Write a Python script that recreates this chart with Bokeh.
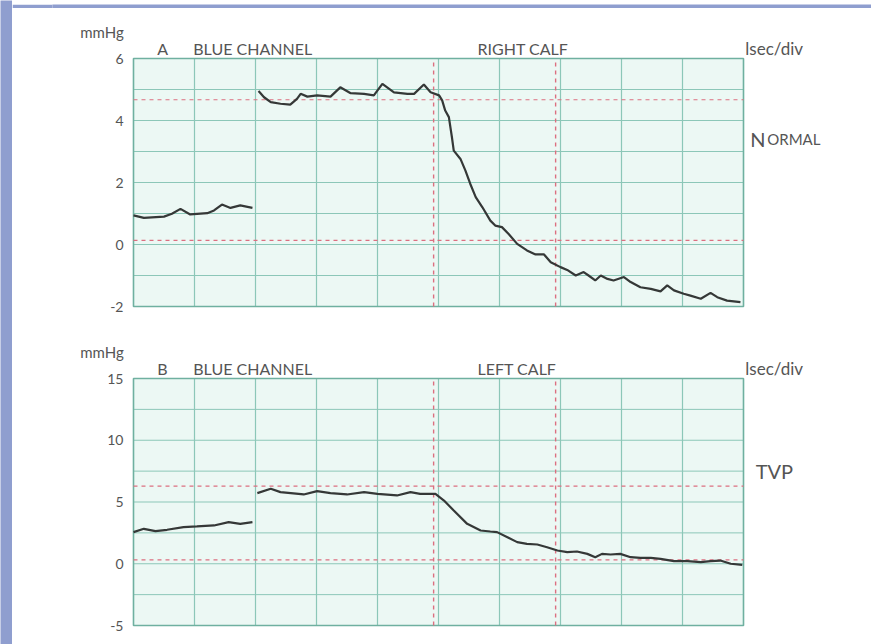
from bokeh.plotting import figure
from bokeh.models import Range1d, FixedTicker, Label, CustomJSTickFormatter
from bokeh.layouts import column, row
from bokeh.embed import file_html
from bokeh.resources import INLINE

# ---------------- data ----------------
# Panel A (right calf, normal) - time in s (1 s/div), pressure mmHg
a1_t = [0.00, 0.17, 0.50, 0.63, 0.77, 0.93, 1.21, 1.32, 1.45, 1.59, 1.75, 1.95]
a1_v = [0.94, 0.86, 0.90, 0.99, 1.15, 0.97, 1.01, 1.10, 1.29, 1.18, 1.26, 1.18]
a2_t = [2.05, 2.14, 2.25, 2.41, 2.57, 2.68, 2.74, 2.85, 3.01, 3.23, 3.39, 3.56, 3.78, 3.94,
        4.08, 4.27, 4.49, 4.60, 4.76, 4.87, 5.01, 5.06, 5.11, 5.17, 5.22, 5.25, 5.36, 5.44,
        5.52, 5.61, 5.72, 5.85, 5.93, 6.04, 6.15, 6.29, 6.45, 6.59, 6.73, 6.84, 7.00, 7.11,
        7.25, 7.38, 7.46, 7.57, 7.66, 7.77, 7.87, 8.04, 8.15, 8.31, 8.48, 8.64, 8.75, 8.86,
        9.02, 9.13, 9.30, 9.46, 9.57, 9.73, 9.95]
a2_v = [4.95, 4.75, 4.59, 4.54, 4.51, 4.70, 4.86, 4.77, 4.81, 4.77, 5.07, 4.88, 4.86, 4.81,
        5.18, 4.91, 4.86, 4.86, 5.16, 4.91, 4.81, 4.65, 4.32, 4.11, 3.46, 3.03, 2.76, 2.39,
        1.96, 1.53, 1.20, 0.77, 0.61, 0.56, 0.34, 0.02, -0.19, -0.32, -0.32, -0.57, -0.73, -0.82,
        -1.00, -0.89, -1.00, -1.16, -1.00, -1.11, -1.16, -1.05, -1.21, -1.38, -1.43, -1.51, -1.32, -1.48,
        -1.59, -1.65, -1.75, -1.56, -1.70, -1.81, -1.86]

# Panel B (left calf, TVP)
b1_t = [0.00, 0.17, 0.36, 0.55, 0.82, 1.04, 1.32, 1.56, 1.75, 1.95]
b1_v = [2.56, 2.83, 2.64, 2.75, 2.96, 3.02, 3.10, 3.37, 3.23, 3.37]
b2_t = [2.03, 2.25, 2.41, 2.79, 3.01, 3.23, 3.50, 3.78, 4.00, 4.32, 4.54, 4.70, 4.95, 5.09,
        5.25, 5.47, 5.69, 5.85, 5.96, 6.13, 6.29, 6.45, 6.62, 6.78, 6.95, 7.11, 7.27, 7.44,
        7.57, 7.68, 7.82, 7.98, 8.15, 8.31, 8.48, 8.64, 8.86, 9.08, 9.30, 9.46, 9.62, 9.79, 9.98]
b2_v = [5.72, 6.07, 5.80, 5.61, 5.88, 5.72, 5.61, 5.80, 5.66, 5.53, 5.80, 5.66, 5.66, 5.12,
        4.31, 3.23, 2.69, 2.61, 2.56, 2.15, 1.75, 1.61, 1.56, 1.34, 1.07, 0.94, 0.99, 0.80,
        0.53, 0.80, 0.75, 0.80, 0.53, 0.48, 0.48, 0.40, 0.21, 0.21, 0.13, 0.21, 0.26, 0.00, -0.09]

x_grid = [0, 1, 2, 3, 4, 5, 6, 7, 8, 9, 10]
a_ticks = [-2, 0, 2, 4, 6]
a_grid = [-2, -1, 0, 1, 2, 3, 4, 5, 6]
b_ticks = [-5, 0, 5, 10, 15]
b_grid = [-5, -2.5, 0, 2.5, 5, 7.5, 10, 12.5, 15]

a_ref_h = [4.67, 0.13]
b_ref_h = [6.28, 0.32]
ref_v = [4.92, 6.92]

FONT = "Lato"
TXT = "#555555"
GRID = "#8cc7b8"
OUTLINE = "#6fb0a0"
FILL = "#ecf8f4"
RED = "#dc6f80"
TRACE = "#353837"
SLIDE = "#8f9ecf"

W = 859          # chart canvas width (page minus the blue strip)
PX_X = 61.0      # pixels per second
FRAME_L = 40     # frame left border (axis panel)
ZERO_X = 121     # canvas x of t = 0


def make_panel(height, below, ylo, px_y, ticks, ygrid):
    # 'below' = pixels of canvas below the lowest grid line
    x0 = -(ZERO_X - FRAME_L) / PX_X
    x1 = x0 + (W - FRAME_L) / PX_X
    y0 = ylo - below / px_y
    y1 = y0 + height / px_y
    p = figure(width=W, height=height, x_range=Range1d(x0, x1), y_range=Range1d(y0, y1),
               output_backend="svg", toolbar_location=None, x_axis_location=None,
               min_border_left=FRAME_L, min_border_right=0, min_border_top=0,
               min_border_bottom=0)
    p.title.visible = False
    p.grid.visible = False
    p.background_fill_color = "white"
    p.border_fill_color = "white"
    p.outline_line_color = None
    ax = p.yaxis[0]
    ax.fixed_location = 0
    ax.ticker = FixedTicker(ticks=ticks)
    ax.formatter = CustomJSTickFormatter(code="return tick.toString();")
    ax.axis_line_color = None
    ax.major_tick_line_color = None
    ax.minor_tick_line_color = None
    ax.major_tick_out = 0
    ax.major_tick_in = 0
    ax.major_label_standoff = 10
    ax.major_label_text_font = FONT
    ax.major_label_text_font_size = "14px"
    ax.major_label_text_color = TXT
    # chart paper
    p.quad(left=[x_grid[0]], right=[x_grid[-1]], bottom=[ygrid[0]], top=[ygrid[-1]],
           fill_color=FILL, line_color=None)
    # grid
    p.segment(x0=x_grid, x1=x_grid, y0=[ygrid[0]] * len(x_grid), y1=[ygrid[-1]] * len(x_grid),
              line_color=GRID, line_width=1.2)
    p.segment(x0=[x_grid[0]] * len(ygrid), x1=[x_grid[-1]] * len(ygrid), y0=ygrid, y1=ygrid,
              line_color=GRID, line_width=1.0)
    # border
    p.quad(left=[x_grid[0]], right=[x_grid[-1]], bottom=[ygrid[0]], top=[ygrid[-1]],
           fill_color=None, line_color=OUTLINE, line_width=1.5)
    return p


def add_refs(p, hs, ygrid):
    p.segment(x0=[x_grid[0]] * len(hs), x1=[x_grid[-1]] * len(hs), y0=hs, y1=hs,
              line_color=RED, line_dash="4 4", line_width=1.2)
    p.segment(x0=ref_v, x1=ref_v, y0=[ygrid[0]] * len(ref_v), y1=[ygrid[-1]] * len(ref_v),
              line_color=RED, line_dash="4 4", line_width=1.4)


def lab(p, x, y, text, size, align="left"):
    p.add_layout(Label(x=x, y=y, text=text, text_font=FONT, text_font_size=size,
                       text_color=TXT, text_align=align, text_baseline="alphabetic"))


# ---------------- panel A ----------------
pa = make_panel(312, 14, -2, 31.0, a_ticks, a_grid)
add_refs(pa, a_ref_h, a_grid)
pa.line(a1_t, a1_v, line_color=TRACE, line_width=2.2)
pa.line(a2_t, a2_v, line_color=TRACE, line_width=2.2)
lab(pa, -0.16, 6.86, "mmHg", "15px", "right")
lab(pa, 0.39, 6.32, "A", "16px")
lab(pa, 0.98, 6.32, "BLUE CHANNEL", "16px")
lab(pa, 5.64, 6.32, "RIGHT CALF", "16px")
lab(pa, 10.03, 6.32, "lsec/div", "17px")
lab(pa, 10.11, 3.39, "N", "20px")
lab(pa, 10.39, 3.39, "ORMAL", "15px")

# ---------------- panel B ----------------
pb = make_panel(324, 19, -5, 12.35, b_ticks, b_grid)
add_refs(pb, b_ref_h, b_grid)
pb.line(b1_t, b1_v, line_color=TRACE, line_width=2.2)
pb.line(b2_t, b2_v, line_color=TRACE, line_width=2.2)
lab(pb, -0.16, 17.15, "mmHg", "15px", "right")
lab(pb, 0.39, 15.81, "B", "16px")
lab(pb, 0.98, 15.81, "BLUE CHANNEL", "16px")
lab(pb, 5.64, 15.81, "LEFT CALF", "16px")
lab(pb, 10.03, 15.81, "lsec/div", "17px")
lab(pb, 10.2, 7.55, "TVP", "20px")


def strip(w, h):
    s = figure(width=w, height=h, output_backend="svg", toolbar_location=None,
               x_axis_location=None, y_axis_location=None, min_border=0)
    s.title.visible = False
    s.grid.visible = False
    s.outline_line_color = None
    s.background_fill_color = SLIDE
    s.border_fill_color = SLIDE
    return s


left_strip = strip(12, 644)
top_strip = strip(W, 8)

layout = row(left_strip, column(top_strip, pa, pb, spacing=0), spacing=0)
open("out.html", "w").write(file_html(layout, INLINE))
